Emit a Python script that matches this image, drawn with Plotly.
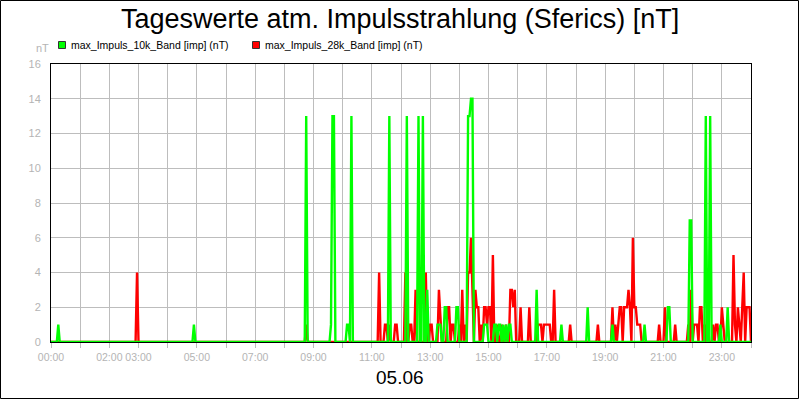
import numpy as np
import plotly.graph_objects as go

# ---------------- data ----------------
title = "Tageswerte atm. Impulsstrahlung (Sferics) [nT]"
date_label = "05.06"
series_names = ["max_Impuls_10k_Band [imp] (nT)", "max_Impuls_28k_Band [imp] (nT)"]
series_colors = ["#00ff00", "#ff0000"]

step_min = 3  # sampling interval in minutes

green_times = ["00:15", "04:54", "08:45", "09:36", "09:39", "09:42", "10:09", "10:12", "10:18",
               "11:36", "12:12", "12:36", "12:45", "12:54", "13:15", "13:18", "13:21", "13:30",
               "13:33", "13:54", "13:57", "14:18", "14:21", "14:24", "14:27", "14:51", "14:54",
               "14:57", "15:12", "15:15", "15:21", "15:24", "15:30", "15:36", "15:42", "15:45",
               "16:39", "17:30", "18:24", "19:15", "20:21", "21:09", "21:12", "21:54", "21:57",
               "22:27", "22:36", "22:57", "23:12"]
green_vals = [1, 1, 13, 1, 13, 13, 1, 1, 13,
              13, 13, 13, 13, 3, 1, 1, 1, 2,
              2, 2, 2, 13, 13, 14, 14, 1, 1,
              1, 1, 1, 1, 1, 1, 1, 1, 1,
              3, 1, 2, 1, 1, 2, 2, 7, 7,
              13, 13, 1, 2]

red_times = ["02:57", "08:45", "11:15", "11:27", "11:30", "11:36", "11:48", "11:51", "12:09",
             "12:18", "12:21", "12:30", "12:51", "13:00", "13:03", "13:18", "13:21", "13:36",
             "13:39", "13:45", "13:48", "14:00", "14:06", "14:12", "14:18", "14:21", "14:24",
             "14:27", "14:33", "14:36", "14:39", "14:45", "14:51", "14:54", "14:57", "15:00",
             "15:03", "15:09", "15:18", "15:27", "15:36", "15:45", "15:48", "15:51", "15:54",
             "16:06", "16:24", "16:42", "16:45", "16:48", "16:54", "16:57", "17:00", "17:03",
             "17:06", "17:15", "17:48", "18:45", "19:15", "19:21", "19:27", "19:30", "19:33",
             "19:39", "19:42", "19:45", "19:48", "19:51", "19:57", "20:00", "20:03", "20:06",
             "20:09", "20:12", "20:51", "21:03", "21:24", "21:51", "21:57", "22:03", "22:06",
             "22:09", "22:15", "22:18", "22:24", "22:30", "22:42", "22:48", "22:51", "23:00",
             "23:03", "23:24", "23:27", "23:33", "23:36", "23:42", "23:45", "23:51", "23:54",
             "23:57"]
red_vals = [4, 1, 4, 1, 1, 1, 1, 1, 4,
            1, 1, 3, 4, 1, 1, 3, 1, 2,
            2, 1, 1, 1, 3, 1, 4, 4, 6,
            2, 3, 2, 2, 1, 2, 2, 1, 2,
            2, 5, 1, 1, 1, 3, 3, 2, 3,
            2, 2, 1, 1, 1, 1, 1, 1, 1,
            1, 3, 1, 1, 2, 1, 1, 2, 2,
            2, 2, 2, 3, 2, 6, 2, 2, 1,
            1, 1, 1, 2, 1, 1, 3, 1, 1,
            1, 2, 2, 1, 2, 1, 1, 1, 2,
            1, 5, 1, 2, 1, 2, 4, 2, 2,
            2]

tick_hours = list(range(0, 25))
labeled_hours = [0, 2, 3, 5, 7, 9, 11, 13, 15, 17, 19, 21, 23]
y_ticks = [0, 2, 4, 6, 8, 10, 12, 14, 16]


# ---------------- build series on the sampling grid ----------------
def to_min(s):
    h, m = s.split(":")
    return int(h) * 60 + int(m)


grid = np.arange(0, 24 * 60 + step_min, step_min)


def build(times, vals):
    y = np.zeros(len(grid))
    for t, v in zip(times, vals):
        y[to_min(t) // step_min] = v
    return y


green_y = build(green_times, green_vals)
red_y = build(red_times, red_vals)

# ---------------- figure ----------------
W, H = 800, 400
ml, mr, mt, mb = 51, 49, 64, 58
pw, ph = W - ml - mr, H - mt - mb

fig = go.Figure()
fig.add_trace(go.Scatter(x=grid, y=red_y, mode="lines", name=series_names[1],
                         line=dict(color=series_colors[1], width=2.4), showlegend=False))
fig.add_trace(go.Scatter(x=grid, y=green_y, mode="lines", name=series_names[0],
                         line=dict(color=series_colors[0], width=2.4), showlegend=False))

tickvals = [h * 60 for h in tick_hours]
ticktext = [("%02d:00" % h) if h in labeled_hours else "" for h in tick_hours]

grid_col = "#bdbdbd"
lab_col = "#b4b4b4"
font_fam = "Liberation Sans, Arial, sans-serif"

fig.update_xaxes(range=[0, 1440], tickvals=tickvals, ticktext=ticktext, tickangle=0,
                 showgrid=True, gridcolor=grid_col, gridwidth=1,
                 showline=True, linecolor="black", linewidth=1, mirror=True,
                 ticks="outside", ticklen=5, tickcolor=grid_col,
                 tickfont=dict(family=font_fam, size=10.5, color=lab_col),
                 zeroline=False)
fig.update_yaxes(range=[0, 16], tickvals=y_ticks,
                 showgrid=True, gridcolor=grid_col, gridwidth=1,
                 showline=True, linecolor="black", linewidth=1, mirror=True,
                 ticks="", ticklabelstandoff=7,
                 tickfont=dict(family=font_fam, size=11, color=lab_col),
                 zeroline=False)


def px(xp):
    return (xp - ml) / pw


def py(yp):
    return 1 - (yp - mt) / ph


annotations = [
    dict(text=title, x=px(400), y=py(19), xref="paper", yref="paper", showarrow=False,
         xanchor="center", yanchor="middle", font=dict(family=font_fam, size=27, color="black")),
    dict(text="nT", x=px(42), y=py(48), xref="paper", yref="paper", showarrow=False,
         xanchor="center", yanchor="middle", font=dict(family=font_fam, size=11, color=lab_col)),
    dict(text=series_names[0], x=px(69), y=py(45), xref="paper", yref="paper", showarrow=False,
         xanchor="left", yanchor="middle", font=dict(family=font_fam, size=10.5, color="black")),
    dict(text=series_names[1], x=px(263), y=py(45), xref="paper", yref="paper", showarrow=False,
         xanchor="left", yanchor="middle", font=dict(family=font_fam, size=10.5, color="black")),
    dict(text=date_label, x=px(400), y=py(377), xref="paper", yref="paper", showarrow=False,
         xanchor="center", yanchor="middle", font=dict(family=font_fam, size=19, color="black")),
]

shapes = [
    dict(type="rect", xref="paper", yref="paper", x0=px(58.5), x1=px(65.5), y0=py(48.5), y1=py(41.5),
         fillcolor=series_colors[0], line=dict(color="#333333", width=1)),
    dict(type="rect", xref="paper", yref="paper", x0=px(252.5), x1=px(259.5), y0=py(48.5), y1=py(41.5),
         fillcolor=series_colors[1], line=dict(color="#333333", width=1)),
    dict(type="rect", xref="paper", yref="paper", x0=px(0.5), x1=px(798.5), y0=py(0.5), y1=py(398.5),
         line=dict(color="black", width=1)),
]

fig.update_layout(width=W, height=H, margin=dict(l=ml, r=mr, t=mt, b=mb, pad=0),
                  paper_bgcolor="white", plot_bgcolor="white",
                  annotations=annotations, shapes=shapes, showlegend=False)

fig.write_html("out.html")
